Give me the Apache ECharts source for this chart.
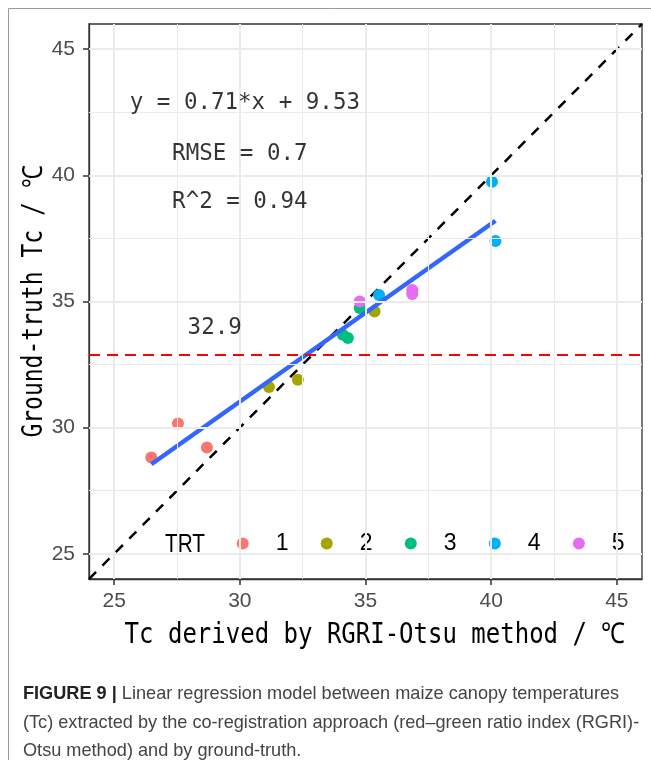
<!DOCTYPE html>
<html>
<head>
<meta charset="utf-8">
<script src="https://cdn.jsdelivr.net/npm/echarts@6/dist/echarts.min.js"></script>
<style>
    html, body {margin: 0; padding: 0; background: #fff;}
</style>
</head>
<body>

<div id="main" style="width: 651px;height:760px;"></div>

<script type="text/javascript">
    // axis range and breaks
    var axisRange = [24, 46];
    var majorTicks = [25, 30, 35, 40, 45];
    var minorTicks = [27.5, 32.5, 37.5, 42.5];

    // treatments
    var trtNames = ['1', '2', '3', '4', '5'];
    var trt1 = [[26.48, 28.82], [27.54, 30.16], [28.69, 29.21]];
    var trt2 = [[31.16, 31.61], [32.31, 31.90], [35.36, 34.60]];
    var trt3 = [[34.10, 33.68], [34.30, 33.55], [34.77, 34.74]];
    var trt4 = [[35.54, 35.26], [40.03, 39.75], [40.17, 37.40]];
    var trt5 = [[34.77, 35.00], [36.86, 35.46], [36.86, 35.30]];

    // fitted line ends
    var fitX = [26.48, 40.17];
    var fitY = [28.55, 38.20];

    // threshold
    var refLevel = 32.9;

    // annotations
    var notes = ['y = 0.71*x + 9.53', 'RMSE = 0.7', 'R^2 = 0.94', '32.9'];
    var noteX = [30.2, 30.0, 30.0, 29.0];
    var noteY = [42.87, 40.84, 38.95, 33.96];

    var trtColors = ['#F8766D', '#A3A500', '#00BF7D', '#00B0F6', '#E76BF3'];
    var sans = '"Liberation Sans", Arial, sans-serif';
    var mono = '"DejaVu Sans Mono", monospace';

    var myChart = echarts.init(document.getElementById('main'));

    var gridLines = [];
    majorTicks.forEach(function (v) {
        gridLines.push({xAxis: v, lineStyle: {color: '#ebebeb', width: 2, type: 'solid'}});
        gridLines.push({yAxis: v, lineStyle: {color: '#ebebeb', width: 2, type: 'solid'}});
    });
    minorTicks.forEach(function (v) {
        gridLines.push({xAxis: v, lineStyle: {color: '#ebebeb', width: 1, type: 'solid'}});
        gridLines.push({yAxis: v, lineStyle: {color: '#ebebeb', width: 1, type: 'solid'}});
    });

    var trtData = [trt1, trt2, trt3, trt4, trt5];
    var pointSeries = trtData.map(function (d, i) {
        return {
            name: trtNames[i],
            type: 'scatter',
            data: d,
            symbolSize: 12,
            itemStyle: {color: trtColors[i], opacity: 1},
            z: 3
        };
    });

    // white legend key boxes
    var keyX0 = 242.7, keyStep = 84.75;
    var keyBoxes = trtNames.map(function (n, i) {
        return {
            type: 'rect',
            z: 1,
            silent: true,
            shape: {x: keyX0 + i * keyStep - 22.5, y: 521.5, width: 45, height: 45},
            style: {fill: '#fff'}
        };
    });

    var option = {
        animation: false,
        grid: {
            left: 89, top: 24, width: 553, height: 555,
            show: true, borderColor: '#333', borderWidth: 1.3,
            backgroundColor: 'transparent'
        },
        xAxis: {
            type: 'value',
            min: axisRange[0], max: axisRange[1],
            axisLine: {show: true, onZero: false, lineStyle: {color: '#333', width: 1.3}},
            axisTick: {show: true, length: 6, customValues: majorTicks, lineStyle: {color: '#333', width: 1.5}},
            axisLabel: {customValues: majorTicks, margin: 12, color: '#4d4d4d', fontSize: 21, fontFamily: sans},
            splitLine: {show: false}
        },
        yAxis: {
            type: 'value',
            min: axisRange[0], max: axisRange[1],
            axisLine: {show: true, onZero: false, lineStyle: {color: '#333', width: 1.3}},
            axisTick: {show: true, length: 6, customValues: majorTicks, lineStyle: {color: '#333', width: 1.5}},
            axisLabel: {customValues: majorTicks, margin: 14, color: '#4d4d4d', fontSize: 21, fontFamily: sans},
            splitLine: {show: false}
        },
        legend: {
            data: trtNames,
            orient: 'horizontal',
            left: 236.7,
            top: 532,
            padding: 0,
            icon: 'circle',
            itemWidth: 12,
            itemHeight: 12,
            itemGap: 32.25,
            textStyle: {fontSize: 23, color: '#000', fontFamily: sans, padding: [6, 0, 0, 22]}
        },
        graphic: [
            {
                type: 'rect', z: 0, silent: true,
                shape: {x: 8.5, y: 8.5, width: 700, height: 800},
                style: {fill: 'none', stroke: '#9a9a9a', lineWidth: 1}
            },
            {
                type: 'text', z: 5,
                x: 185, y: 545, scaleX: 0.8,
                style: {text: 'TRT', font: '26px ' + sans, fill: '#000', textAlign: 'center', textVerticalAlign: 'middle'}
            },
            {
                type: 'text', z: 5,
                x: 375, y: 636, scaleY: 1.2,
                style: {text: 'Tc derived by RGRI-Otsu method / \u2103', font: '24px ' + mono, fill: '#000', textAlign: 'center', textVerticalAlign: 'middle'}
            },
            {
                type: 'text', z: 5,
                x: 35, y: 301.5, rotation: Math.PI / 2, scaleY: 1.2,
                style: {text: 'Ground-truth Tc / \u2103', font: '23px ' + mono, fill: '#000', textAlign: 'center', textVerticalAlign: 'middle'}
            },
            {
                type: 'text', z: 5,
                x: 23, y: 680, scaleX: 0.955,
                style: {
                    text: '{b|FIGURE 9 |} Linear regression model between maize canopy temperatures\n' +
                        '(Tc) extracted by the co-registration approach (red\u2013green ratio index (RGRI)-\n' +
                        'Otsu method) and by ground-truth.',
                    font: '19px ' + sans,
                    fill: '#444',
                    lineHeight: 28.5,
                    rich: {
                        b: {font: 'bold 19px ' + sans, fill: '#222', lineHeight: 28.5}
                    }
                }
            }
        ].concat(keyBoxes),
        series: [
            {
                name: 'grid',
                type: 'line',
                data: [],
                z: 0,
                silent: true,
                markLine: {silent: true, symbol: 'none', label: {show: false}, animation: false, data: gridLines}
            },
            {
                name: 'identity',
                type: 'line',
                data: [[axisRange[0], axisRange[0]], [axisRange[1], axisRange[1]]],
                showSymbol: false,
                symbol: 'none',
                silent: true,
                lineStyle: {color: '#000', width: 2.5, type: [10, 9]},
                z: 2
            },
            {
                name: 'threshold',
                type: 'line',
                data: [],
                silent: true,
                z: 2,
                markLine: {
                    silent: true, symbol: 'none', label: {show: false}, animation: false,
                    lineStyle: {color: '#ff0000', width: 2, type: [11, 7]},
                    data: [{yAxis: refLevel}]
                }
            },
            {
                name: 'fit',
                type: 'line',
                data: [[fitX[0], fitY[0]], [fitX[1], fitY[1]]],
                showSymbol: false,
                symbol: 'none',
                silent: true,
                lineStyle: {color: '#3366FF', width: 4.5},
                z: 4
            }
        ].concat(pointSeries).concat([
            {
                name: 'notes',
                type: 'scatter',
                symbolSize: 0,
                silent: true,
                z: 5,
                data: notes.map(function (t, i) { return [noteX[i], noteY[i], t]; }),
                label: {
                    show: true,
                    position: 'inside',
                    formatter: function (p) { return p.data[2]; },
                    fontFamily: mono,
                    fontSize: 22.5,
                    color: '#000'
                }
            }
        ])
    };

    myChart.setOption(option);
</script>
</body>
</html>
